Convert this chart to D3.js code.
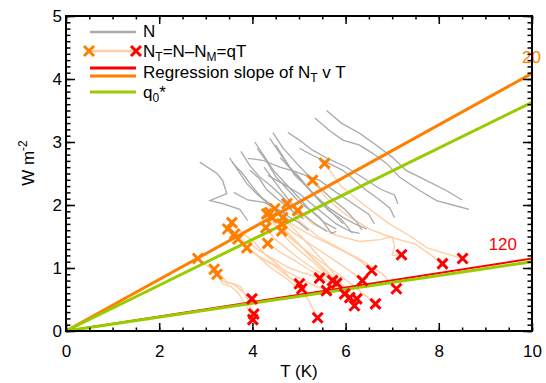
<!DOCTYPE html>
<html>
<head>
<meta charset="utf-8">
<script src="https://cdn.jsdelivr.net/npm/d3@7"></script>
<style>
body { margin: 0; background: #fff; }
text { font-family: "Liberation Sans", Arial, Helvetica, sans-serif; }
</style>
</head>
<body>
<div class="container"></div>
<script>
var width = 546;
var height = 383;

// N trajectories (T in K, N in W m-2)
var nPaths = [
    [[5.59,3.50],[5.91,3.30],[6.30,3.14],[6.66,2.95],[7.00,2.76],[7.30,2.55],[7.73,2.39],[8.16,2.23],[8.50,2.08]],
    [[5.34,3.38],[5.66,3.18],[5.94,3.03],[6.30,2.95],[6.58,2.82],[6.88,2.66],[7.16,2.44],[7.59,2.23],[7.95,2.07],[8.30,2.00],[8.65,1.93]],
    [[4.76,3.15],[5.01,3.03],[5.29,2.87],[5.59,2.75],[6.02,2.60],[6.40,2.42],[6.75,2.25],[7.05,2.16],[7.12,2.02]],
    [[4.44,3.15],[4.65,2.91],[4.95,2.66],[5.16,2.50],[5.44,2.28],[5.70,2.10],[6.00,1.92],[6.25,1.72],[6.35,1.60]],
    [[4.37,3.06],[4.59,2.82],[4.80,2.60],[5.01,2.44],[5.25,2.22],[5.50,2.02],[5.75,1.85],[5.95,1.70]],
    [[5.01,2.90],[5.29,2.79],[5.59,2.68],[5.94,2.55],[6.15,2.42],[6.45,2.23],[6.70,2.10],[6.95,1.95],[7.05,1.80]],
    [[3.90,2.74],[4.22,2.71],[4.59,2.60],[4.95,2.52],[5.44,2.39],[5.80,2.20],[6.20,2.00],[6.50,1.85],[6.62,1.70]],
    [[3.51,2.75],[3.69,2.55],[3.88,2.34],[4.09,2.18],[4.31,2.04],[4.55,1.90],[4.80,1.75]],
    [[4.33,2.47],[4.65,2.34],[5.01,2.18],[5.30,2.00],[5.55,1.85],[5.80,1.70],[6.10,1.58],[6.30,1.55]],
    [[3.56,2.68],[3.79,2.50],[4.01,2.28],[4.20,2.12],[4.45,1.98],[4.70,1.85],[5.00,1.72],[5.20,1.60]],
    [[2.87,2.68],[3.24,2.50],[3.36,2.39],[3.45,2.18],[3.09,2.07],[3.36,2.02],[3.73,1.93],[3.90,1.75]],
    [[4.10,2.90],[4.30,2.70],[4.50,2.45],[4.75,2.25],[5.00,2.05],[5.30,1.88],[5.55,1.72],[5.80,1.62]],
    [[4.05,3.00],[4.25,2.78],[4.45,2.55],[4.70,2.35],[4.95,2.15],[5.20,1.95],[5.45,1.80],[5.70,1.55],[5.80,1.58]],
    [[3.95,2.55],[4.15,2.42],[4.30,2.25],[4.50,2.12],[4.70,2.00],[4.90,1.88],[5.10,1.78]],
    [[4.60,2.75],[4.85,2.55],[5.10,2.35],[5.35,2.15],[5.65,1.95],[5.95,1.80],[6.20,1.70],[6.45,1.62]],
    [[3.60,2.20],[3.90,2.08],[4.25,2.04],[4.50,1.95],[4.75,1.85]],
    [[4.25,2.60],[4.45,2.40],[4.65,2.20],[4.85,2.02],[5.10,1.85],[5.35,1.70],[5.60,1.58]],
    [[4.50,2.95],[4.70,2.72],[4.90,2.48],[5.15,2.30],[5.40,2.10],[5.62,1.92],[5.90,1.78],[6.15,1.55]],
    [[3.75,2.85],[3.95,2.62],[4.15,2.45],[4.40,2.30],[4.62,2.15],[4.85,1.98],[5.05,1.90]]
];

// N_T trajectories: first point = year 20 (orange X), last point = year 120 (red X)
var ntPaths = [
    [[2.83,1.15],[3.05,1.02],[3.30,0.90],[3.45,0.78],[3.60,0.74],[3.80,0.62],[3.99,0.51]],
    [[3.18,0.98],[3.30,0.82],[3.45,0.76],[3.60,0.75],[3.75,0.70],[3.90,0.50],[3.95,0.38],[4.03,0.27]],
    [[3.24,0.90],[3.36,0.75],[3.55,0.70],[3.70,0.60],[3.85,0.42],[3.95,0.30],[4.01,0.18]],
    [[3.47,1.62],[3.70,1.45],[3.95,1.30],[4.20,1.15],[4.45,1.05],[4.70,0.90],[5.01,0.75]],
    [[3.56,1.72],[3.80,1.55],[4.05,1.40],[4.30,1.20],[4.55,1.05],[4.80,0.85],[5.06,0.67]],
    [[3.62,1.54],[3.85,1.35],[4.10,1.20],[4.40,1.00],[4.70,0.85],[4.95,0.70],[5.20,0.50],[5.30,0.35],[5.40,0.21]],
    [[3.69,1.46],[3.95,1.38],[4.20,1.25],[4.50,1.12],[4.80,1.00],[5.10,0.92],[5.44,0.84]],
    [[3.88,1.32],[4.10,1.20],[4.35,1.10],[4.60,1.00],[4.90,0.88],[5.25,0.75],[5.59,0.64]],
    [[4.29,1.64],[4.50,1.45],[4.75,1.30],[5.00,1.15],[5.25,1.02],[5.50,0.90],[5.72,0.80]],
    [[4.31,1.86],[4.55,1.62],[4.80,1.42],[5.05,1.25],[5.30,1.10],[5.55,0.92],[5.81,0.76]],
    [[4.33,1.39],[4.60,1.25],[4.90,1.12],[5.20,0.98],[5.50,0.85],[5.75,0.72],[5.98,0.59]],
    [[4.37,1.88],[4.60,1.68],[4.90,1.45],[5.20,1.22],[5.50,1.00],[5.80,0.75],[6.09,0.53]],
    [[4.42,1.80],[4.70,1.60],[5.00,1.38],[5.30,1.15],[5.60,0.95],[5.95,0.72],[6.24,0.51]],
    [[4.48,1.94],[4.75,1.72],[5.05,1.50],[5.35,1.25],[5.65,1.00],[5.95,0.70],[6.19,0.40]],
    [[4.63,1.70],[4.90,1.55],[5.20,1.40],[5.50,1.25],[5.80,1.10],[6.10,0.95],[6.36,0.80]],
    [[4.63,1.59],[4.90,1.42],[5.20,1.25],[5.50,1.08],[5.85,0.90],[6.20,0.70],[6.45,0.55],[6.64,0.43]],
    [[4.65,1.80],[4.95,1.65],[5.30,1.50],[5.65,1.38],[6.00,1.25],[6.30,1.12],[6.56,0.96]],
    [[4.74,2.02],[5.00,1.75],[5.40,1.50],[5.90,1.30],[6.40,1.10],[6.80,0.90],[7.09,0.67]],
    [[4.97,1.91],[5.30,1.70],[5.80,1.52],[6.30,1.42],[6.75,1.45],[7.00,1.50],[7.05,1.35],[7.00,1.20],[7.20,1.21]],
    [[5.29,2.39],[5.60,2.10],[6.00,1.85],[6.50,1.62],[7.00,1.48],[7.50,1.38],[7.80,1.22],[8.08,1.07]],
    [[5.55,2.66],[5.90,2.30],[6.40,2.00],[6.90,1.72],[7.40,1.50],[7.75,1.32],[8.10,1.24],[8.51,1.15]]
];

var periods = ['20', '120'];
var regSlope = [0.409, 0.115];   // regression slope of N_T v T
var q0Slope = [0.363, 0.110];    // q0*
var xTickValues = [0, 2, 4, 6, 8, 10];
var yTickValues = [0, 1, 2, 3, 4, 5];

var colors = {
    grey: '#aaaaaa', pale: '#ffcfa6', orange: '#ff7f00', red: '#ff0000', green: '#99cc00'
};

var plotLeft = 66, plotRight = 532, plotTop = 16, plotBottom = 331;

var x = d3.scaleLinear().domain([0, 10]).range([plotLeft, plotRight]);
var y = d3.scaleLinear().domain([0, 5]).range([plotBottom, plotTop]);

var svg = d3.select('.container').append('svg')
    .attr('width', width)
    .attr('height', height);

svg.append('rect').attr('width', width).attr('height', height).attr('fill', '#fff');

var line = d3.line()
    .x(function(d) { return x(d[0]); })
    .y(function(d) { return y(d[1]); });

var cross = 'M-5,-5L5,5M-5,5L5,-5';

// trajectories
svg.append('g').selectAll('path').data(ntPaths).enter().append('path')
    .attr('d', line)
    .attr('fill', 'none')
    .attr('stroke', colors.pale)
    .attr('stroke-width', 1.4);

svg.append('g').selectAll('path').data(nPaths).enter().append('path')
    .attr('d', line)
    .attr('fill', 'none')
    .attr('stroke', colors.grey)
    .attr('stroke-width', 1.3);

// regression and q0* lines through the origin
var slopeLines = [
    {k: regSlope[0], c: colors.orange, w: 3},
    {k: q0Slope[0], c: colors.green, w: 3},
    {k: regSlope[1], c: colors.red, w: 2},
    {k: q0Slope[1], c: colors.green, w: 3}
];
svg.append('g').selectAll('path').data(slopeLines).enter().append('path')
    .attr('d', function(d) { return line([[0, 0], [10, 10 * d.k]]); })
    .attr('fill', 'none')
    .attr('stroke', function(d) { return d.c; })
    .attr('stroke-width', function(d) { return d.w; });

svg.append('text').attr('x', 541).attr('y', y(10 * regSlope[0]) - 10)
    .attr('text-anchor', 'end').attr('font-size', 17).attr('fill', colors.orange)
    .text(periods[0]);
svg.append('text').attr('x', 517).attr('y', y(10 * regSlope[1]) - 9)
    .attr('text-anchor', 'end').attr('font-size', 17).attr('fill', colors.red)
    .text(periods[1]);

// markers
svg.append('g').selectAll('path').data(ntPaths).enter().append('path')
    .attr('d', cross)
    .attr('transform', function(d) { var p = d[0]; return 'translate(' + x(p[0]) + ',' + y(p[1]) + ')'; })
    .attr('stroke', colors.orange).attr('stroke-width', 3).attr('fill', 'none');

svg.append('g').selectAll('path').data(ntPaths).enter().append('path')
    .attr('d', cross)
    .attr('transform', function(d) { var p = d[d.length - 1]; return 'translate(' + x(p[0]) + ',' + y(p[1]) + ')'; })
    .attr('stroke', colors.red).attr('stroke-width', 3).attr('fill', 'none');

// axes
var styleAxis = function(g) {
    g.select('.domain').remove();
    g.selectAll('line').attr('stroke', '#000').attr('stroke-width', 1.5);
    g.selectAll('text').attr('font-size', 17).attr('fill', '#000')
        .attr('font-family', '"Liberation Sans", Arial, sans-serif');
};

svg.append('g').attr('transform', 'translate(0,' + plotBottom + ')')
    .call(d3.axisBottom(x).tickValues(x.ticks(20)).tickSize(-3.5).tickFormat(''))
    .call(styleAxis);
svg.append('g').attr('transform', 'translate(0,' + plotBottom + ')')
    .call(d3.axisBottom(x).tickValues(xTickValues).tickSize(-8).tickPadding(14).tickFormat(d3.format('d')))
    .call(styleAxis);
svg.append('g').attr('transform', 'translate(0,' + plotTop + ')')
    .call(d3.axisTop(x).tickValues(x.ticks(20)).tickSize(-3.5).tickFormat(''))
    .call(styleAxis);
svg.append('g').attr('transform', 'translate(0,' + plotTop + ')')
    .call(d3.axisTop(x).tickValues(xTickValues).tickSize(-8).tickFormat(''))
    .call(styleAxis);

svg.append('g').attr('transform', 'translate(' + plotLeft + ',0)')
    .call(d3.axisLeft(y).tickValues(y.ticks(50)).tickSize(-4.5).tickFormat(''))
    .call(styleAxis);
svg.append('g').attr('transform', 'translate(' + plotLeft + ',0)')
    .call(d3.axisLeft(y).tickValues(yTickValues).tickSize(-9).tickPadding(4).tickFormat(d3.format('d')))
    .call(styleAxis);
svg.append('g').attr('transform', 'translate(' + plotRight + ',0)')
    .call(d3.axisRight(y).tickValues(y.ticks(50)).tickSize(-4.5).tickFormat(''))
    .call(styleAxis);
svg.append('g').attr('transform', 'translate(' + plotRight + ',0)')
    .call(d3.axisRight(y).tickValues(yTickValues).tickSize(-9).tickFormat(''))
    .call(styleAxis);

svg.append('rect')
    .attr('x', plotLeft).attr('y', plotTop)
    .attr('width', plotRight - plotLeft).attr('height', plotBottom - plotTop)
    .attr('fill', 'none').attr('stroke', '#000').attr('stroke-width', 2);

// axis titles
svg.append('text').attr('x', (plotLeft + plotRight) / 2).attr('y', 377)
    .attr('text-anchor', 'middle').attr('font-size', 17).text('T (K)');

var yTitle = svg.append('text')
    .attr('transform', 'translate(34,163) rotate(-90)')
    .attr('text-anchor', 'middle').attr('font-size', 17);
yTitle.append('tspan').text('W m');
yTitle.append('tspan').attr('font-size', 12).attr('dy', -7).text('-2');

// legend
var legend = svg.append('g');
var lx0 = 90, lx1 = 136, tx = 143;

legend.append('line').attr('x1', lx0).attr('x2', lx1).attr('y1', 32).attr('y2', 32)
    .attr('stroke', colors.grey).attr('stroke-width', 2.5);
legend.append('text').attr('x', tx).attr('y', 37).attr('font-size', 17).text('N');

legend.append('line').attr('x1', lx0).attr('x2', lx1).attr('y1', 51).attr('y2', 51)
    .attr('stroke', colors.pale).attr('stroke-width', 2.5);
legend.append('path').attr('d', cross).attr('transform', 'translate(89,51)')
    .attr('stroke', colors.orange).attr('stroke-width', 3);
legend.append('path').attr('d', cross).attr('transform', 'translate(136,51)')
    .attr('stroke', colors.red).attr('stroke-width', 3);
var t2 = legend.append('text').attr('x', tx).attr('y', 57).attr('font-size', 17);
t2.append('tspan').text('N');
t2.append('tspan').attr('font-size', 12).attr('dy', 4).text('T');
t2.append('tspan').attr('dy', -4).text('=N\u2013N');
t2.append('tspan').attr('font-size', 12).attr('dy', 4).text('M');
t2.append('tspan').attr('dy', -4).text('=qT');

legend.append('line').attr('x1', lx0).attr('x2', lx1).attr('y1', 68).attr('y2', 68)
    .attr('stroke', colors.red).attr('stroke-width', 3);
legend.append('line').attr('x1', lx0).attr('x2', lx1).attr('y1', 76).attr('y2', 76)
    .attr('stroke', colors.orange).attr('stroke-width', 3);
var t3 = legend.append('text').attr('x', tx).attr('y', 78).attr('font-size', 17);
t3.append('tspan').text('Regression slope of N');
t3.append('tspan').attr('font-size', 12).attr('dy', 4).text('T');
t3.append('tspan').attr('dy', -4).text(' v T');

legend.append('line').attr('x1', lx0).attr('x2', lx1).attr('y1', 92).attr('y2', 92)
    .attr('stroke', colors.green).attr('stroke-width', 3);
var t4 = legend.append('text').attr('x', tx).attr('y', 98).attr('font-size', 17);
t4.append('tspan').text('q');
t4.append('tspan').attr('font-size', 12).attr('dy', 4).text('0');
t4.append('tspan').attr('dy', -4).text('*');
</script>
</body>
</html>
